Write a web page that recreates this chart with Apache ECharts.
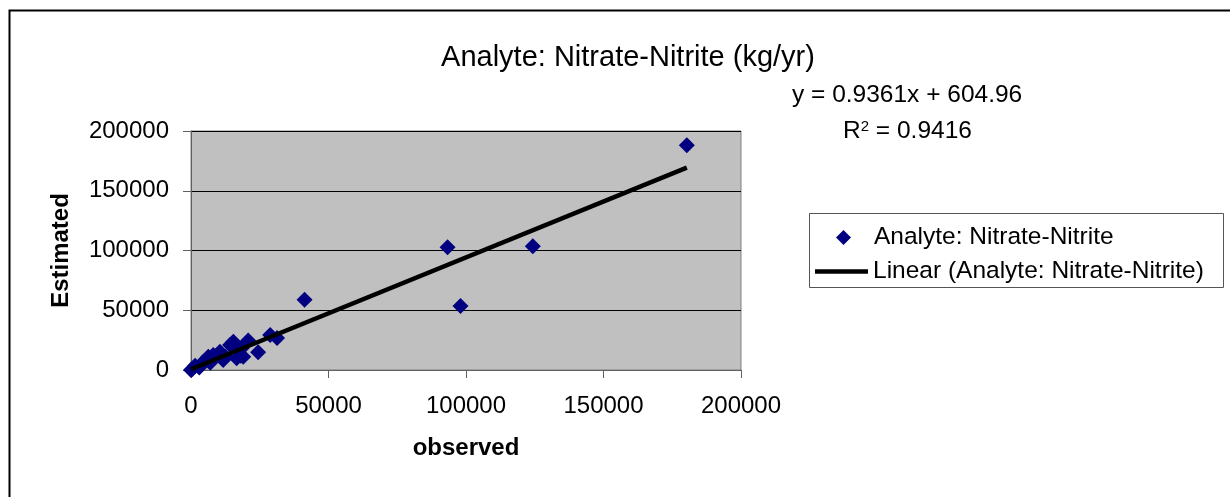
<!DOCTYPE html>
<html>
<head>
<meta charset="utf-8">
<script src="https://cdn.jsdelivr.net/npm/echarts@6/dist/echarts.min.js"></script>
<style>html,body{margin:0;padding:0;background:#fff;}#c{width:1230px;height:497px;}</style>
</head>
<body>
<div id="c"></div>
<script>
const chartTitle = 'Analyte: Nitrate-Nitrite (kg/yr)';
const seriesName = 'Analyte: Nitrate-Nitrite';
const trendName = 'Linear (Analyte: Nitrate-Nitrite)';
const equationText = 'y = 0.9361x + 604.96';
const r2Text = '0.9416';
const xAxisTitle = 'observed';
const yAxisTitle = 'Estimated';
const observed = [0, 500, 1500, 3000, 4500, 6300, 8100, 7000, 10500, 11700, 12500, 14200, 15400, 16600, 17000, 18400, 19000, 18100, 20800, 24400, 28800, 31300, 41300, 93300, 98000, 124300, 180300];
const estimated = [0, 800, 3500, 2000, 7000, 11000, 12500, 6000, 15300, 8400, 11000, 20900, 23700, 9800, 17000, 18100, 11100, 12000, 24600, 14800, 29300, 26800, 58700, 102800, 53600, 103600, 188000];
const trendX = [0, 180300];
const trendY = [605, 169390];

const FONT = 'Liberation Sans, Arial, sans-serif';
const legendText = {fontFamily: FONT, fontSize: 24.5, color: '#000'};
const chart = echarts.init(document.getElementById('c'));
chart.setOption({
  animation: false,
  backgroundColor: '#fff',
  title: {
    text: chartTitle, left: 623, top: 38, textAlign: 'center',
    textStyle: {fontFamily: FONT, fontSize: 29, fontWeight: 'normal', color: '#000'}
  },
  grid: {left: 191, top: 131, right: 489, bottom: 127, show: true, backgroundColor: '#c0c0c0', borderColor: '#808080', borderWidth: 1},
  legend: [
    {
      left: 836, top: 225, padding: 0, itemWidth: 15, itemHeight: 15,
      icon: 'diamond', textStyle: Object.assign({padding: [0, 0, 0, 18]}, legendText),
      data: [seriesName]
    },
    {
      left: 815, top: 259, padding: 0, itemWidth: 53, itemHeight: 4.5,
      icon: 'rect', textStyle: legendText,
      data: [trendName]
    }
  ],
  xAxis: {
    type: 'value', min: 0, max: 200000, interval: 50000,
    name: xAxisTitle, nameLocation: 'middle', nameGap: 66,
    nameTextStyle: {fontFamily: FONT, fontSize: 24, fontWeight: 'bold', color: '#000'},
    axisLine: {show: true, lineStyle: {color: '#606060', width: 1}},
    axisTick: {show: true, length: 8, lineStyle: {color: '#606060'}},
    axisLabel: {margin: 24, fontFamily: FONT, fontSize: 24, color: '#000', formatter: v => String(v)},
    splitLine: {show: false}
  },
  yAxis: {
    type: 'value', min: 0, max: 200000, interval: 50000,
    name: yAxisTitle, nameLocation: 'middle', nameGap: 118,
    nameTextStyle: {fontFamily: FONT, fontSize: 24, fontWeight: 'bold', color: '#000'},
    axisLine: {show: true, lineStyle: {color: '#606060', width: 1}},
    axisTick: {show: true, length: 8, lineStyle: {color: '#606060'}},
    axisLabel: {margin: 22, fontFamily: FONT, fontSize: 24, color: '#000', formatter: v => String(v)},
    splitLine: {show: true, lineStyle: {color: '#000', width: 1}}
  },
  series: [
    {
      name: seriesName, type: 'scatter', symbol: 'diamond', symbolSize: 16,
      itemStyle: {color: '#000080', opacity: 1},
      data: observed.map((x, i) => [x, estimated[i]]), z: 3
    },
    {
      name: trendName, type: 'line', showSymbol: false, symbol: 'none',
      lineStyle: {color: '#000', width: 4.5}, itemStyle: {color: '#000'},
      data: trendX.map((x, i) => [x, trendY[i]]), z: 4
    }
  ],
  graphic: [
    {type: 'rect', left: 7, top: 8, silent: true, shape: {width: 1240, height: 500}, style: {fill: 'none', stroke: '#000', lineWidth: 2}, z: -1},
    {type: 'rect', left: 809, top: 213, silent: true, shape: {width: 414, height: 74}, style: {fill: '#fff', stroke: '#555', lineWidth: 1}, z: -1},
    {type: 'text', left: 792, top: 83, style: {text: equationText, font: '24.5px ' + FONT, fill: '#000'}},
    {type: 'text', left: 843, top: 119, style: {
      text: 'R{sup|2} = ' + r2Text, font: '24.5px ' + FONT, fill: '#000',
      rich: {sup: {fontSize: 15, verticalAlign: 'top', padding: [0, 0, 10, 0], fontFamily: FONT}}
    }}
  ]
});
</script>
</body>
</html>
